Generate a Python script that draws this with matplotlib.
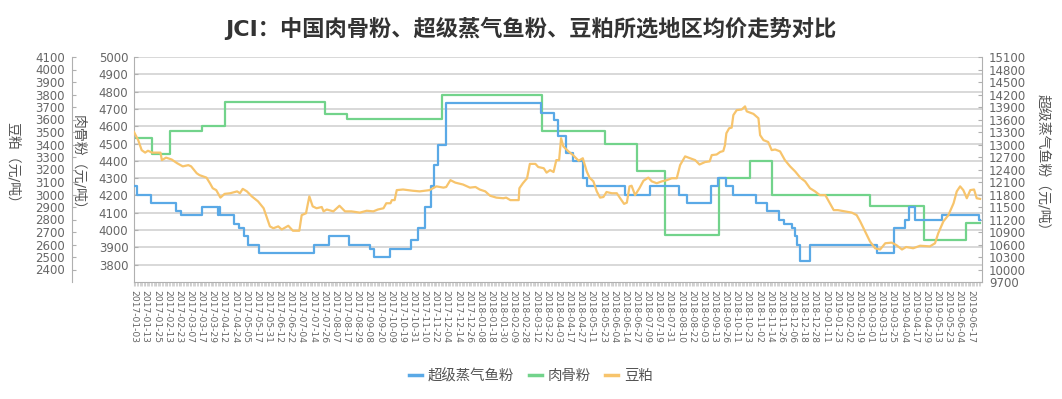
import matplotlib
matplotlib.use("Agg")
import matplotlib.pyplot as plt
from matplotlib.lines import Line2D

plt.rcParams["font.family"] = ["DejaVu Sans", "Noto Sans CJK SC"]

TITLE = "JCI：中国肉骨粉、超级蒸气鱼粉、豆粕所选地区均价走势对比"
SERIES_NAMES = ["超级蒸气鱼粉", "肉骨粉", "豆粕"]
COLORS = ["#5aa9e6", "#72d38b", "#f7c46c"]

# x axis: trading-day index, a label every 8th day
N_DAYS = 608
DATE_LABELS = [
    "2017-01-03", "2017-01-13", "2017-01-25", "2017-02-13", "2017-02-23", "2017-03-07",
    "2017-03-17", "2017-03-29", "2017-04-12", "2017-04-24", "2017-05-05", "2017-05-17",
    "2017-05-31", "2017-06-12", "2017-06-22", "2017-07-04", "2017-07-14", "2017-07-26",
    "2017-08-07", "2017-08-17", "2017-08-29", "2017-09-08", "2017-09-20", "2017-10-09",
    "2017-10-19", "2017-10-31", "2017-11-10", "2017-11-22", "2017-12-04", "2017-12-14",
    "2017-12-26", "2018-01-08", "2018-01-18", "2018-01-30", "2018-02-09", "2018-02-28",
    "2018-03-12", "2018-03-22", "2018-04-03", "2018-04-17", "2018-04-27", "2018-05-11",
    "2018-05-23", "2018-06-04", "2018-06-14", "2018-06-27", "2018-07-09", "2018-07-19",
    "2018-07-31", "2018-08-10", "2018-08-22", "2018-09-03", "2018-09-13", "2018-09-26",
    "2018-10-11", "2018-10-23", "2018-11-02", "2018-11-14", "2018-11-26", "2018-12-06",
    "2018-12-18", "2018-12-28", "2019-01-11", "2019-01-23", "2019-02-02", "2019-02-19",
    "2019-03-01", "2019-03-13", "2019-03-25", "2019-04-04", "2019-04-17", "2019-04-29",
    "2019-05-13", "2019-05-23", "2019-06-04", "2019-06-17",
]
LABEL_STEP = 8

# 超级蒸气鱼粉 (right axis): price changes (day index, yuan/t)
fish_t = [0, 2, 12, 30, 34, 49, 60, 61, 62, 72, 75, 79, 82, 90, 129, 140, 154, 169, 172,
          184, 199, 204, 209, 213, 215, 218, 224, 292, 301, 304, 310, 315, 322, 325, 352,
          370, 391, 397, 414, 419, 425, 430, 446, 454, 463, 466, 472, 474, 476, 478, 485,
          533, 545, 553, 556, 560, 580, 606]
fish_v = [12000, 11800, 11600, 11400, 11300, 11500, 11300, 11500, 11300, 11100, 11000,
          10800, 10600, 10400, 10600, 10800, 10600, 10500, 10300, 10500, 10700, 11000,
          11500, 12000, 12500, 13000, 14000, 13750, 13600, 13200, 12800, 12600, 12200,
          12000, 11800, 12000, 11800, 11600, 12000, 12200, 12000, 11800, 11600, 11400,
          11200, 11100, 11000, 10800, 10600, 10200, 10600, 10400, 11000, 11200, 11500,
          11200, 11300, 11200]

# 肉骨粉 (middle axis): price changes
meat_t = [0, 13, 26, 49, 65, 137, 153, 221, 293, 338, 361, 381, 420, 442, 458, 528, 567, 597]
meat_v = [4530, 4440, 4570, 4600, 4740, 4670, 4640, 4780, 4570, 4500, 4340, 3970, 4300,
          4400, 4200, 4140, 3940, 4040]

# 豆粕 (outer left axis)
soy_t = [0, 3, 5.5, 8, 10, 13, 19, 20, 23, 27, 31, 35, 39, 41, 45, 47, 52, 54.5, 56.5, 59,
         62, 65, 69, 74, 76, 78, 81, 84.5, 89, 93, 95, 97.5, 100, 103.5, 106, 110.7, 114,
         118.6, 120.3, 123.4, 125.8, 128.2, 131, 134.7, 136, 138.3, 143, 147.4, 151.4, 156,
         162, 167, 171.7, 175, 179, 181, 184, 185, 187, 188.5, 193, 200, 205, 212, 217, 222,
         224, 227, 230.5, 236, 241, 245, 248, 252, 255.5, 260, 265, 267, 270, 276, 276.5,
         279, 282, 284, 288, 290, 294, 296, 298.5, 301, 303, 305, 306.4, 308, 311.7, 315,
         319, 322, 324.8, 326.8, 329.6, 332, 334.4, 336.8, 339, 342.8, 346.4, 348.8, 351.6,
         353.6, 355.5, 357, 359.5, 362.6, 365.5, 369, 371.5, 375, 378.7, 382.3, 385.8,
         389.4, 391.8, 395.4, 399, 402.6, 405.7, 409.8, 413, 414.5, 418, 420.5, 422.8, 424,
         425, 427, 428.8, 430, 432.4, 436, 438.4, 439.6, 444.4, 448, 449.2, 451.6, 455,
         457.5, 460, 463.5, 467, 470.7, 474.3, 478, 481.5, 485, 488.6, 492, 496, 498, 502,
         505, 510, 515, 518.5, 521, 524.5, 528, 531.7, 535.3, 539, 543.6, 547, 551, 554,
         559, 564, 571, 574.7, 577, 580.7, 584.3, 588, 590.3, 592.7, 595, 597.5, 600,
         602.7, 604.6, 607]
soy_v = [3500, 3435, 3355, 3335, 3350, 3335, 3335, 3275, 3295, 3280, 3250, 3225, 3235,
         3225, 3170, 3155, 3135, 3090, 3050, 3035, 2975, 3005, 3010, 3025, 3010, 3045,
         3025, 2985, 2945, 2890, 2825, 2745, 2730, 2745, 2720, 2750, 2710, 2710, 2835,
         2850, 2985, 2905, 2890, 2900, 2865, 2880, 2865, 2910, 2865, 2865, 2855, 2870,
         2865, 2880, 2890, 2930, 2930, 2955, 2955, 3035, 3040, 3030, 3025, 3035, 3065,
         3055, 3060, 3115, 3095, 3080, 3055, 3060, 3040, 3025, 2990, 2975, 2970, 2975,
         2955, 2955, 3050, 3090, 3130, 3245, 3245, 3220, 3210, 3175, 3195, 3180, 3275,
         3275, 3450, 3385, 3345, 3315, 3270, 3290, 3185, 3135, 3105, 3025, 2975, 2980,
         3020, 3010, 3010, 2970, 2925, 2935, 3065, 3070, 2995, 3050, 3110, 3135, 3105,
         3090, 3105, 3115, 3130, 3130, 3235, 3305, 3290, 3275, 3240, 3260, 3265, 3315,
         3320, 3340, 3348, 3395, 3490, 3530, 3535, 3635, 3675, 3680, 3705, 3665, 3645,
         3610, 3475, 3435, 3420, 3355, 3360, 3345, 3275, 3225, 3185, 3135, 3105, 3050,
         3025, 2995, 2995, 2955, 2875, 2875, 2865, 2855, 2835, 2785, 2705, 2625, 2570,
         2560, 2610, 2615, 2595, 2560, 2580, 2570, 2590, 2585, 2610, 2690, 2785, 2835,
         2930, 3025, 3065, 3035, 2970, 3035, 3040, 2970, 2965]

MEAT_TICKS = list(range(3800, 5001, 100))
SOY_TICKS = list(range(2400, 4101, 100))
FISH_TICKS = list(range(9700, 15101, 300))

W, H = 1062, 399
L, R, T, B = 134, 982, 57, 282
TICK_C, SPINE_C, GRID_C = "#666666", "#b0b0b0", "#d6d6d6"

fig = plt.figure(figsize=(W / 100, H / 100), dpi=100)
ax = fig.add_axes([L / W, 1 - B / H, (R - L) / W, (B - T) / H])
ax_fish = ax.twinx()
ax_soy = ax.twinx()

ax.set_xlim(0, 608.4)
ax.set_ylim(3700, 5000)
ax.set_yticks(MEAT_TICKS)
ax.grid(axis="y", color=GRID_C, lw=1.3)
ax.set_axisbelow(True)
ax.set_xticks(range(0, LABEL_STEP * len(DATE_LABELS), LABEL_STEP))
ax.set_xticklabels(DATE_LABELS)
ax.set_xticks(range(0, N_DAYS), minor=True)
ax.tick_params(axis="x", which="major", labelrotation=270, labelsize=6.6,
               labelcolor=TICK_C, color="#cccccc", length=3, pad=3)
ax.tick_params(axis="x", which="minor", color="#cccccc", length=3, width=0.6)
ax.tick_params(axis="y", labelsize=8.5, labelcolor=TICK_C, color=SPINE_C,
               direction="in", length=3, pad=4)
for s in ("top", "right"):
    ax.spines[s].set_visible(False)
for s in ("left", "bottom"):
    ax.spines[s].set_color(SPINE_C)

ax_fish.set_ylim(9700, 15100)
ax_fish.set_yticks(FISH_TICKS)
ax_fish.tick_params(axis="y", labelsize=8.5, labelcolor=TICK_C, color=SPINE_C,
                    direction="in", length=3, pad=5)
for s in ("top", "left", "bottom"):
    ax_fish.spines[s].set_visible(False)
ax_fish.spines["right"].set_color(SPINE_C)

ax_soy.set_ylim(2300, 4100)
ax_soy.set_yticks(SOY_TICKS)
ax_soy.spines["left"].set_position(("axes", (72 - L) / (R - L)))
ax_soy.spines["left"].set_visible(True)
ax_soy.spines["left"].set_color(SPINE_C)
ax_soy.yaxis.set_ticks_position("left")
for s in ("top", "right", "bottom"):
    ax_soy.spines[s].set_visible(False)
ax_soy.tick_params(axis="y", labelsize=8.5, labelcolor=TICK_C, color=SPINE_C,
                   direction="in", length=3, pad=5)

lw = 1.6
ax.plot(meat_t + [N_DAYS - 1], meat_v + [meat_v[-1]], drawstyle="steps-post",
        color=COLORS[1], lw=lw)
ax_fish.plot(fish_t + [N_DAYS - 1], fish_v + [fish_v[-1]], drawstyle="steps-post",
             color=COLORS[0], lw=lw)
ax_soy.plot(soy_t, soy_v, color=COLORS[2], lw=lw)

# axis titles, rotated to read top-down
lab = dict(rotation=-90, ha="center", va="center", fontsize=10, color="#555555")
fig.text(12.5 / W, 1 - 166 / H, "豆粕（元/吨）", **lab)
fig.text(78 / W, 1 - 166 / H, "肉骨粉（元/吨）", **lab)
fig.text(1043 / W, 1 - 166 / H, "超级蒸气鱼粉（元/吨）", **lab)

fig.text(531 / W, 1 - 28 / H, TITLE, ha="center", va="center", fontsize=16,
         fontweight="bold", color="#333333")

handles = [Line2D([], [], color=c, lw=2.5) for c in COLORS]
leg = fig.legend(handles, SERIES_NAMES, loc="center", ncol=3, frameon=False,
                 bbox_to_anchor=(531 / W, 1 - 376 / H), fontsize=10.4,
                 handlelength=0.9, handletextpad=0.4, columnspacing=1.0)
for t in leg.get_texts():
    t.set_color("#555555")

fig.savefig("out.png", dpi=100)
